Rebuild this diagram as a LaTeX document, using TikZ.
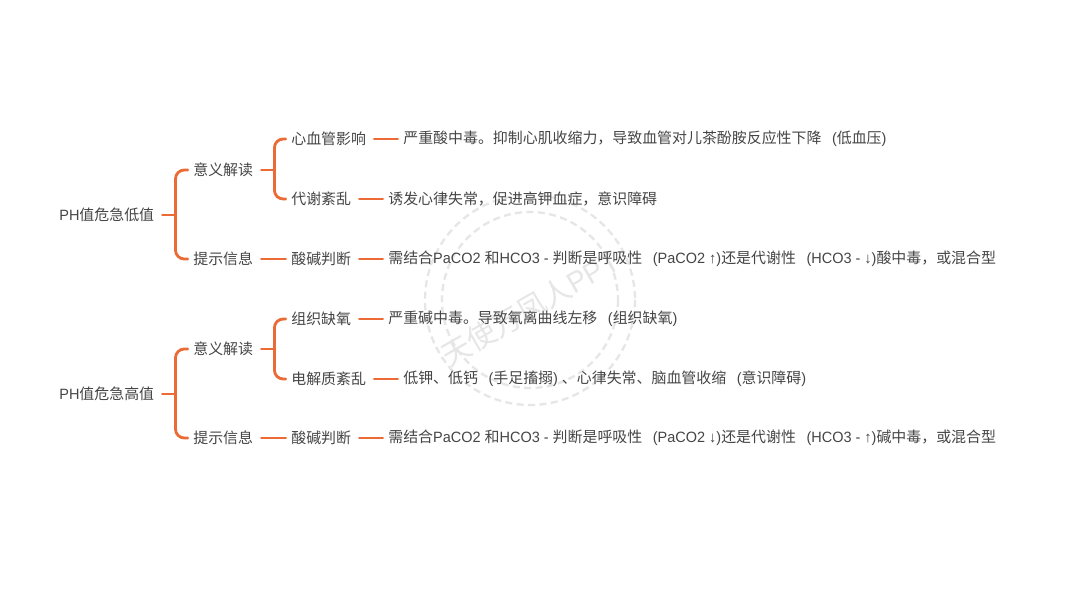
\documentclass[tikz,border=0pt]{standalone}
\usepackage{fontspec}
\setmainfont{Noto Sans CJK SC}
\newfontfamily\latinfont[FakeStretch=0.97]{Liberation Sans}
\usetikzlibrary{positioning}
\definecolor{linkorange}{HTML}{EB6A35}
\definecolor{labelgray}{HTML}{454545}
\definecolor{stampgray}{HTML}{E6E6E6}
\newcommand{\lat}[1]{{\latinfont #1}}
\newcommand{\lp}{\lat{\hspace{6pt}(}}
\tikzset{
  topic/.style={anchor=west,inner xsep=0pt,inner ysep=2pt,text=labelgray,font=\fontsize{8.5}{10}\selectfont},
  link/.style={draw=linkorange,line width=1.6pt,line cap=round,shorten <=4.5pt,shorten >=3pt},
  stub/.style={draw=linkorange,line width=1.6pt,line cap=round,shorten <=4.5pt},
  spine/.style={draw=linkorange,line width=1.6pt,line cap=round,rounded corners=5pt,shorten <=3pt,shorten >=3pt},
  stamp/.style={draw=stampgray,line width=1.3pt,dash pattern=on 4pt off 2.5pt}
}
\newcommand{\fork}[4]{%
  \draw[stub] (#1.east) -- (#4);
  \draw[spine] (#2.west) -| (#4) |- (#3.west);}
\begin{document}
\begin{tikzpicture}[x=0.02cm,y=-0.02cm]
  \useasboundingbox (0,0) rectangle (1080,608);
  \fill[white] (0,0) rectangle (1080,608);
  % stamp behind the map
  \draw[stamp] (530,300) circle (105);
  \draw[stamp] (530,300) circle (88);
  \node[rotate=30,text=stampgray,font=\fontsize{16.5}{18}\selectfont] (stamptext) at (530,308) {天使万凤人\lat{PPT}};
  % low value
  \node[topic] (lowroot) at (59,215) {\lat{PH}值危急低值};
  \node[topic] (lowmean) at (193,170) {意义解读};
  \node[topic] (lowhint) at (193,259) {提示信息};
  \node[topic] (lowheart) at (291,139) {心血管影响};
  \node[topic] (lowmeta) at (291,199) {代谢紊乱};
  \node[topic] (lowacid) at (291,259) {酸碱判断};
  \node[topic] (lowheartnote) at (403,139) {严重酸中毒。抑制心肌收缩力，导致血管对儿茶酚胺反应性下降\lp 低血压\lat{)}};
  \node[topic] (lowmetanote) at (388,199) {诱发心律失常，促进高钾血症，意识障碍};
  \node[topic] (lowacidnote) at (388,259) {需结合\lat{PaCO2 }和\lat{HCO3 - }判断是呼吸性\lp\lat{PaCO2 ↑)}还是代谢性\lp\lat{HCO3 - ↓)}酸中毒，或混合型};
  \coordinate (lowrootjoin) at ([xshift=21*0.02cm]lowroot.east);
  \coordinate (lowmeanjoin) at ([xshift=21*0.02cm]lowmean.east);
  \fork{lowroot}{lowmean}{lowhint}{lowrootjoin}
  \fork{lowmean}{lowheart}{lowmeta}{lowmeanjoin}
  \draw[link] (lowhint) -- (lowacid);
  \draw[link] (lowheart) -- (lowheartnote);
  \draw[link] (lowmeta) -- (lowmetanote);
  \draw[link] (lowacid) -- (lowacidnote);
  % high value
  \node[topic] (highroot) at (59,394) {\lat{PH}值危急高值};
  \node[topic] (highmean) at (193,349) {意义解读};
  \node[topic] (highhint) at (193,438) {提示信息};
  \node[topic] (hightissue) at (291,319) {组织缺氧};
  \node[topic] (highsalt) at (291,379) {电解质紊乱};
  \node[topic] (highacid) at (291,438) {酸碱判断};
  \node[topic] (hightissuenote) at (388,319) {严重碱中毒。导致氧离曲线左移\lp 组织缺氧\lat{)}};
  \node[topic] (highsaltnote) at (403,379) {低钾、低钙\lp 手足搐搦\lat{) }、心律失常、脑血管收缩\lp 意识障碍\lat{)}};
  \node[topic] (highacidnote) at (388,438) {需结合\lat{PaCO2 }和\lat{HCO3 - }判断是呼吸性\lp\lat{PaCO2 ↓)}还是代谢性\lp\lat{HCO3 - ↑)}碱中毒，或混合型};
  \coordinate (highrootjoin) at ([xshift=21*0.02cm]highroot.east);
  \coordinate (highmeanjoin) at ([xshift=21*0.02cm]highmean.east);
  \fork{highroot}{highmean}{highhint}{highrootjoin}
  \fork{highmean}{hightissue}{highsalt}{highmeanjoin}
  \draw[link] (highhint) -- (highacid);
  \draw[link] (hightissue) -- (hightissuenote);
  \draw[link] (highsalt) -- (highsaltnote);
  \draw[link] (highacid) -- (highacidnote);
\end{tikzpicture}
\end{document}
